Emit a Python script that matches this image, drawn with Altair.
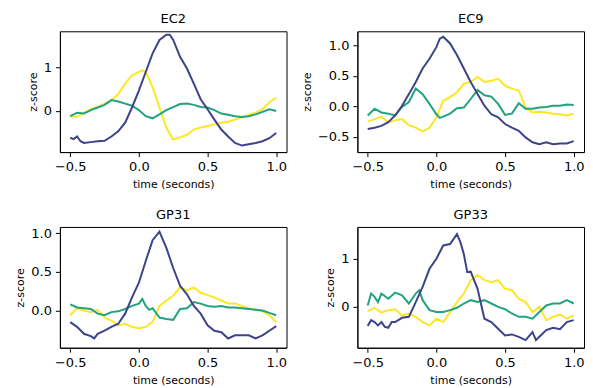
import altair as alt
import pandas as pd

# ---------------- data ----------------
BASE_T = [-0.5, -0.45, -0.4, -0.35, -0.3, -0.25, -0.2, -0.15, -0.1, -0.05,
          0.0, 0.05, 0.1, 0.15, 0.2, 0.25, 0.3, 0.35, 0.4, 0.45,
          0.5, 0.55, 0.6, 0.65, 0.7, 0.75, 0.8, 0.85, 0.9, 0.95, 1.0]

# EC2
ec2_dark_t = [-0.5, -0.475, -0.45, -0.425, -0.4, -0.35, -0.3, -0.25, -0.2, -0.15, -0.1, -0.05,
              0.0, 0.05, 0.1, 0.15, 0.2, 0.225, 0.25, 0.3, 0.35, 0.4, 0.45,
              0.5, 0.55, 0.6, 0.65, 0.7, 0.75, 0.8, 0.85, 0.9, 0.95, 1.0]
ec2_dark_v = [-0.62, -0.65, -0.59, -0.70, -0.74, -0.72, -0.70, -0.69, -0.59, -0.47, -0.27, 0.08,
              0.47, 0.90, 1.33, 1.64, 1.76, 1.76, 1.64, 1.25, 0.98, 0.63, 0.27,
              0.04, -0.20, -0.43, -0.59, -0.74, -0.80, -0.77, -0.74, -0.70, -0.63, -0.51]
ec2_yellow_t = [-0.5, -0.45, -0.4, -0.35, -0.3, -0.25, -0.2, -0.15, -0.1, -0.05,
                0.0, 0.025, 0.05, 0.1, 0.15, 0.2, 0.25, 0.3, 0.35, 0.4, 0.45,
                0.5, 0.55, 0.6, 0.65, 0.7, 0.75, 0.8, 0.85, 0.9, 0.95, 1.0]
ec2_yellow_v = [-0.12, -0.14, -0.04, 0.04, 0.09, 0.17, 0.25, 0.39, 0.63, 0.82,
                0.90, 0.94, 0.90, 0.55, 0.08, -0.39, -0.66, -0.61, -0.55, -0.43, -0.38,
                -0.35, -0.31, -0.27, -0.25, -0.20, -0.14, -0.09, -0.04, 0.04, 0.20, 0.31]
ec2_green_t = BASE_T
ec2_green_v = [-0.12, -0.04, -0.06, 0.02, 0.08, 0.14, 0.25, 0.22, 0.17, 0.12,
               0.02, -0.12, -0.17, -0.08, 0.02, 0.09, 0.16, 0.17, 0.14, 0.09,
               0.08, 0.02, -0.06, -0.09, -0.12, -0.14, -0.12, -0.08, -0.02, 0.04, 0.0]

# EC9
ec9_dark_t = [-0.5, -0.45, -0.4, -0.35, -0.3, -0.25, -0.2, -0.15, -0.1, -0.05,
              0.0, 0.025, 0.05, 0.1, 0.15, 0.2, 0.25, 0.3, 0.35, 0.4, 0.45,
              0.5, 0.55, 0.6, 0.65, 0.7, 0.75, 0.8, 0.85, 0.9, 0.95, 1.0]
ec9_dark_v = [-0.37, -0.35, -0.32, -0.26, -0.15, 0.01, 0.20, 0.40, 0.62, 0.78,
              0.97, 1.11, 1.14, 1.03, 0.84, 0.62, 0.40, 0.20, 0.01, -0.13, -0.18,
              -0.29, -0.35, -0.40, -0.51, -0.59, -0.62, -0.59, -0.62, -0.61, -0.61, -0.57]
ec9_yellow_t = BASE_T
ec9_yellow_v = [-0.25, -0.21, -0.17, -0.26, -0.23, -0.21, -0.31, -0.35, -0.41, -0.35,
                -0.18, 0.09, 0.15, 0.23, 0.37, 0.40, 0.48, 0.40, 0.42, 0.45,
                0.34, 0.29, 0.26, -0.02, -0.10, -0.09, -0.10, -0.12, -0.13, -0.15, -0.12]
ec9_green_t = [-0.5, -0.45, -0.4, -0.35, -0.3, -0.25, -0.2, -0.15, -0.1, -0.05,
               0.0, 0.025, 0.05, 0.1, 0.15, 0.2, 0.25, 0.3, 0.35, 0.4, 0.45,
               0.5, 0.55, 0.6, 0.65, 0.7, 0.75, 0.8, 0.85, 0.9, 0.95, 1.0]
ec9_green_v = [-0.15, -0.04, -0.10, -0.12, -0.15, -0.01, 0.07, 0.29, 0.20, 0.04,
               -0.13, -0.19, -0.17, -0.12, -0.03, -0.02, 0.12, 0.27, 0.18, 0.16, 0.04,
               -0.14, -0.12, 0.05, -0.04, -0.04, -0.02, -0.01, 0.01, 0.01, 0.03, 0.02]

# GP31
gp31_dark_t = [-0.5, -0.45, -0.4, -0.35, -0.325, -0.3, -0.25, -0.2, -0.15, -0.1, -0.05,
               0.0, 0.05, 0.1, 0.15, 0.2, 0.25, 0.3, 0.35, 0.4, 0.45,
               0.5, 0.55, 0.6, 0.65, 0.7, 0.75, 0.8, 0.85, 0.9, 0.95, 1.0]
gp31_dark_v = [-0.15, -0.21, -0.30, -0.33, -0.36, -0.30, -0.26, -0.21, -0.17, -0.04, 0.17,
               0.36, 0.64, 0.91, 1.02, 0.81, 0.55, 0.32, 0.21, 0.06, -0.04,
               -0.19, -0.26, -0.28, -0.36, -0.32, -0.32, -0.32, -0.36, -0.32, -0.26, -0.20]
gp31_yellow_t = BASE_T
gp31_yellow_v = [-0.06, 0.03, 0.0, -0.02, 0.01, -0.09, -0.13, -0.19, -0.17, -0.21,
                 -0.23, -0.21, -0.15, 0.06, 0.13, 0.19, 0.30, 0.26, 0.30, 0.23,
                 0.20, 0.17, 0.13, 0.09, 0.09, 0.06, 0.03, 0.01, -0.01, -0.06, -0.15]
gp31_green_t = [-0.5, -0.45, -0.4, -0.35, -0.3, -0.25, -0.2, -0.15, -0.1, -0.05,
                0.0, 0.025, 0.05, 0.075, 0.1, 0.15, 0.2, 0.25, 0.3, 0.35, 0.4, 0.45,
                0.5, 0.55, 0.6, 0.65, 0.7, 0.75, 0.8, 0.85, 0.9, 0.95, 1.0]
gp31_green_v = [0.08, 0.04, 0.03, 0.02, -0.04, -0.06, -0.02, -0.01, 0.02, 0.06,
                0.09, 0.15, 0.06, 0.01, 0.03, -0.09, -0.11, -0.12, 0.02, 0.03, 0.11, 0.09,
                0.06, 0.05, 0.06, 0.04, 0.04, 0.03, 0.02, 0.01, 0.0, -0.03, -0.06]

# GP33
gp33_dark_t = [-0.5, -0.475, -0.45, -0.425, -0.4, -0.375, -0.35, -0.325, -0.3, -0.25, -0.2, -0.15, -0.1, -0.05,
               0.0, 0.05, 0.1, 0.15, 0.175, 0.2, 0.225, 0.25, 0.3, 0.35, 0.4, 0.45,
               0.5, 0.55, 0.6, 0.65, 0.7, 0.725, 0.75, 0.8, 0.85, 0.9, 0.95, 1.0]
gp33_dark_v = [-0.41, -0.29, -0.33, -0.40, -0.33, -0.43, -0.45, -0.33, -0.33, -0.24, -0.22, 0.09, 0.41, 0.79,
               1.00, 1.28, 1.31, 1.52, 1.35, 1.10, 0.72, 0.73, 0.37, -0.26, -0.33, -0.47,
               -0.61, -0.59, -0.64, -0.71, -0.54, -0.71, -0.64, -0.50, -0.45, -0.48, -0.33, -0.29]
gp33_yellow_t = BASE_T
gp33_yellow_v = [-0.10, -0.03, -0.13, -0.08, -0.06, -0.19, -0.15, -0.22, -0.33, -0.40,
                 -0.26, -0.33, -0.12, 0.09, 0.27, 0.55, 0.66, 0.55, 0.51, 0.55,
                 0.37, 0.34, 0.16, 0.09, -0.12, -0.01, -0.29, -0.22, -0.17, -0.26, -0.19]
gp33_green_t = [-0.5, -0.475, -0.45, -0.425, -0.4, -0.35, -0.3, -0.25, -0.2, -0.15, -0.125, -0.1, -0.05,
                0.0, 0.05, 0.1, 0.15, 0.2, 0.25, 0.3, 0.35, 0.4, 0.45,
                0.5, 0.55, 0.6, 0.65, 0.7, 0.75, 0.8, 0.85, 0.9, 0.95, 1.0]
gp33_green_v = [0.02, 0.27, 0.20, 0.09, 0.27, 0.16, 0.29, 0.23, 0.06, 0.27, 0.34, 0.13, -0.08,
                -0.12, -0.12, -0.08, -0.03, 0.06, 0.13, 0.09, 0.13, 0.06, -0.01,
                -0.06, -0.15, -0.22, -0.22, -0.26, -0.12, 0.02, 0.06, 0.06, 0.13, 0.06]

TITLES = ["EC2", "EC9", "GP31", "GP33"]
X_TICKS = [-0.5, 0.0, 0.5, 1.0]
COLORS = {"dark": "#3e4389", "green": "#22a37f", "yellow": "#fde725"}

# ---------------- chart ----------------
FONT = "DejaVu Sans"
MINUS = "replace(datum.label, '-', '\u2212')"


def panel(title, lines, ydomain, yticks, yfmt):
    layers = []
    for name, t, v in lines:
        df = pd.DataFrame({"t": t, "v": v})
        layers.append(
            alt.Chart(df).mark_line(strokeWidth=2, color=COLORS[name]).encode(
                x=alt.X("t:Q",
                        scale=alt.Scale(domain=[-0.575, 1.075], nice=False, zero=False),
                        axis=alt.Axis(values=X_TICKS, format=".1f", labelExpr=MINUS,
                                      title="time (seconds)")),
                y=alt.Y("v:Q",
                        scale=alt.Scale(domain=ydomain, nice=False, zero=False),
                        axis=alt.Axis(values=yticks, format=yfmt, labelExpr=MINUS,
                                      title="z-score")),
                order=alt.Order("t:Q"),
            )
        )
    return alt.layer(*layers).properties(
        width=227, height=121,
        title=alt.TitleParams(title, font=FONT, fontSize=13, fontWeight="normal",
                              color="black", offset=5, anchor="middle"),
    )


# drawing order: yellow (bottom), green, dark (top)
p1 = panel(TITLES[0], [("yellow", ec2_yellow_t, ec2_yellow_v),
                       ("green", ec2_green_t, ec2_green_v),
                       ("dark", ec2_dark_t, ec2_dark_v)],
           [-0.95, 1.84], [0, 1], "d")
p2 = panel(TITLES[1], [("yellow", ec9_yellow_t, ec9_yellow_v),
                       ("green", ec9_green_t, ec9_green_v),
                       ("dark", ec9_dark_t, ec9_dark_v)],
           [-0.75, 1.23], [-0.5, 0.0, 0.5, 1.0], ".1f")
p3 = panel(TITLES[2], [("yellow", gp31_yellow_t, gp31_yellow_v),
                       ("green", gp31_green_t, gp31_green_v),
                       ("dark", gp31_dark_t, gp31_dark_v)],
           [-0.48, 1.08], [0.0, 0.5, 1.0], ".1f")
p4 = panel(TITLES[3], [("yellow", gp33_yellow_t, gp33_yellow_v),
                       ("green", gp33_green_t, gp33_green_v),
                       ("dark", gp33_dark_t, gp33_dark_v)],
           [-0.87, 1.67], [0, 1], "d")

chart = alt.concat(p1, p2, p3, p4, columns=2,
                   spacing=alt.RowColnumber(row=18, column=13)).properties(
    padding={"left": 6, "top": 3, "right": 0, "bottom": 0}
).configure_view(
    stroke="black", strokeWidth=1
).configure_axis(
    grid=False, domainColor="black", domainWidth=1, tickColor="black", tickWidth=1,
    tickSize=4.5, labelColor="black", titleColor="black", labelFont=FONT, titleFont=FONT,
    labelFontSize=13, titleFontSize=11, titleFontWeight="normal", labelPadding=4,
    titlePadding=5, labelFlush=False, labelOverlap=False
)

chart.save("out.html", embed_options={"renderer": "svg", "actions": False})
